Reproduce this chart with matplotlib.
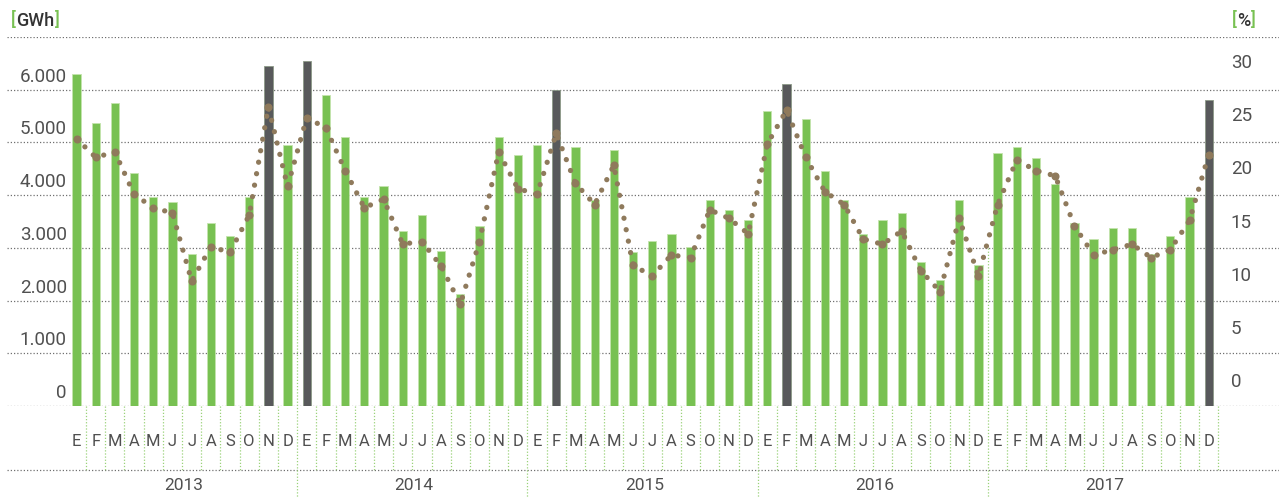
import matplotlib
matplotlib.use("Agg")
import matplotlib.pyplot as plt

# ---------------- data ----------------
years = ["2013", "2014", "2015", "2016", "2017"]
month_letters = ["E", "F", "M", "A", "M", "J", "J", "A", "S", "O", "N", "D"]

gwh = [6300, 5360, 5755, 4415, 3969, 3868, 2874, 3472, 3220, 3969, 6453, 4956,
       6547, 5906, 5107, 3969, 4170, 3321, 3623, 2931, 2132, 3421, 5107, 4761,
       4956, 6000, 4906, 3912, 4862, 2925, 3126, 3270, 3025, 3912, 3717, 3522,
       5604, 6101, 5453, 4465, 3912, 3270, 3522, 3667, 2730, 2384, 3912, 2673,
       4805, 4906, 4711, 4214, 3472, 3170, 3371, 3371, 2874, 3220, 3962, 5799]

pct = [22.9, 21.15, 21.65, 17.66, 16.4, 15.9, 9.49, 12.7, 12.2, 15.7, 25.9, 18.4,
       24.9, 23.9, 19.9, 16.4, 17.2, 12.98, 13.2, 10.9, 7.3, 13.2, 21.65, 18.2,
       17.66, 23.4, 18.7, 16.7, 20.4, 10.97, 9.96, 11.94, 11.7, 16.2, 15.4, 13.95,
       22.4, 25.6, 21.15, 17.9, 16.7, 13.45, 12.95, 14.2, 10.46, 8.5, 15.4, 9.96,
       16.7, 20.9, 19.9, 19.4, 14.7, 11.94, 12.44, 12.95, 11.7, 12.44, 15.2, 21.4]

highlight = [10, 12, 25, 37, 59]  # months drawn dark

gwh_ticks = [0, 1000, 2000, 3000, 4000, 5000, 6000]
gwh_labels = ["0", "1.000", "2.000", "3.000", "4.000", "5.000", "6.000"]
pct_ticks = [0, 5, 10, 15, 20, 25, 30]

# ---------------- style ----------------
GREEN = "#78c152"
GREEN_EDGE = "#c4e4ad"
DARK = "#58595b"
DARK_EDGE = "#8c9a88"
DOT = "#8f7a5c"
GRID = "#707070"
SEP = "#9bd27a"
TXT = "#505050"
FONT = "Roboto"

W, H = 1279, 497
fig = plt.figure(figsize=(W / 100, H / 100), dpi=100)
ax_left_px, ax_right_px = 7, 1279
ax_top_px, ax_bot_px = 37, 406
ax = fig.add_axes([ax_left_px / W, (H - ax_bot_px) / H,
                   (ax_right_px - ax_left_px) / W, (ax_bot_px - ax_top_px) / H])

n = len(gwh)
x = list(range(n))
step = 19.19
x0_px = 76.5
xmin = (ax_left_px - x0_px) / step
xmax = (ax_right_px - x0_px) / step
ax.set_xlim(xmin, xmax)
ax.set_ylim(0, 7000)
ax.axis("off")

px_per_gwh = (ax_bot_px - ax_top_px) / 7000.0


def ypx_to_gwh(ypx):
    return (ax_bot_px - ypx) / px_per_gwh


# horizontal gridlines
for v in range(0, 7001, 1000):
    ax.axhline(v, color=GRID, lw=0.9, ls=(0, (1, 1.6)), zorder=1)
ax.axhline(ypx_to_gwh(469.5), color=GRID, lw=0.9, ls=(0, (1, 1.6)),
           zorder=1, clip_on=False)

# bars
colors = [DARK if i in highlight else GREEN for i in x]
edges = [DARK_EDGE if i in highlight else GREEN_EDGE for i in x]
ax.bar(x, gwh, width=0.43, color=colors, edgecolor=edges, linewidth=0.6, zorder=2)

# month separators & year separators
y_sep_bottom = ypx_to_gwh(469.5)
for k in range(1, n + 1):
    xs = k - 0.5
    if k % 12 == 0 and k < n:
        ax.plot([xs, xs], [3000, ypx_to_gwh(H)], color=SEP, lw=0.9,
                ls=(0, (1, 1.5)), zorder=1, clip_on=False)
    else:
        ax.plot([xs, xs], [0, y_sep_bottom], color=SEP, lw=0.9,
                ls=(0, (1, 1.5)), zorder=1, clip_on=False)

# month labels
y_month = ypx_to_gwh(441)
for i in x:
    ax.text(i, y_month, month_letters[i % 12], ha="center", va="center",
            fontsize=12, color=TXT, family=FONT, clip_on=False)

# year labels
y_year = ypx_to_gwh(486)
for j, yr in enumerate(years):
    ax.text(12 * j + 5.6, y_year, yr, ha="center", va="center",
            fontsize=12.5, color=TXT, family=FONT, clip_on=False)

# left tick labels
for v, lab in zip(gwh_ticks, gwh_labels):
    ax.text(-0.5, v + 13 / px_per_gwh, lab, ha="right", va="center",
            fontsize=13.5, color=TXT, family=FONT)

# percentage axis
ax2 = ax.twinx()
ax2.set_position(ax.get_position())
px_per_pct = 10.61
zero_pct_px = 381.7
ax2.set_ylim(-(ax_bot_px - zero_pct_px) / px_per_pct,
             (zero_pct_px - ax_top_px) / px_per_pct)
ax2.set_xlim(xmin, xmax)
ax2.axis("off")

ax2.plot(x, pct, color=DOT, lw=3.8, ls=(0, (0.01, 2.2)),
         dash_capstyle="round", zorder=5)
ax2.plot(x, pct, ls="none", marker="o", ms=4.8, color=DOT, mec=DOT, zorder=6)

for v in pct_ticks:
    ax2.text((1230.7 - x0_px) / step, v, str(v), ha="left", va="center",
             fontsize=13.5, color=TXT, family=FONT)

# unit titles with green brackets
renderer = fig.canvas.get_renderer()


def bracket_title(x_px, y_px, label):
    xf = x_px / W
    yf = 1 - y_px / H
    parts = [("[", GREEN), (label, "#333333"), ("]", GREEN)]
    for s, c in parts:
        t = fig.text(xf, yf, s, ha="left", va="center", fontsize=13,
                     color=c, family=FONT, fontweight="medium")
        bb = t.get_window_extent(renderer)
        xf = bb.x1 / W + 0.6 / W


bracket_title(11, 20.5, "GWh")
bracket_title(1232, 20.5, "%")

fig.savefig("out.png", dpi=100)
